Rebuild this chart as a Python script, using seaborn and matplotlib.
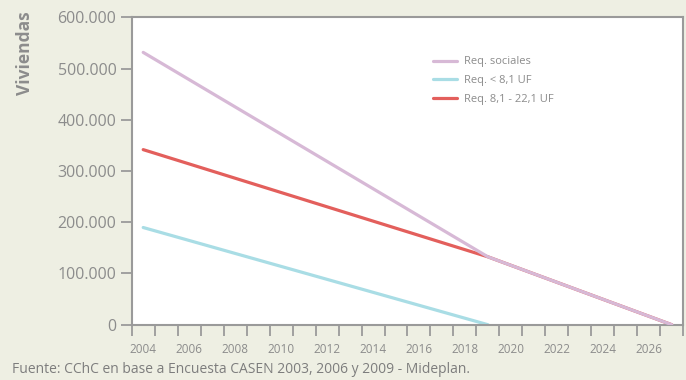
import matplotlib
matplotlib.use("Agg")
import matplotlib.pyplot as plt
from matplotlib.ticker import FuncFormatter, FixedLocator
import seaborn as sns
import pandas as pd

# Housing requirement projections (number of dwellings)
years_sociales = [2004, 2019, 2027]
req_sociales = [531500, 132500, 0]

years_bajo = [2004, 2019]
req_bajo = [189700, 0]

years_medio = [2004, 2019, 2027]
req_medio = [341700, 132500, 0]

series_names = ["Req. sociales", "Req. < 8,1 UF", "Req. 8,1 - 22,1 UF"]
series_colors = ["#d7b9d6", "#a9dde5", "#e35f5c"]

x_labels = list(range(2004, 2027, 2))
y_ticks = [0, 100000, 200000, 300000, 400000, 500000, 600000]

source_text = "Fuente: CChC en base a Encuesta CASEN 2003, 2006 y 2009 - Mideplan."
y_title = "Viviendas"

df = pd.concat([
    pd.DataFrame({"Año": years_sociales, "Viviendas": req_sociales, "Serie": series_names[0]}),
    pd.DataFrame({"Año": years_bajo, "Viviendas": req_bajo, "Serie": series_names[1]}),
    pd.DataFrame({"Año": years_medio, "Viviendas": req_medio, "Serie": series_names[2]}),
], ignore_index=True)

sns.set_style("white")
plt.rcParams["font.family"] = ["Open Sans", "DejaVu Sans"]

bg = "#eeefe3"
grey = "#8c8c8c"
spine_c = "#9a9a9a"

fig = plt.figure(figsize=(6.86, 3.80), dpi=100, facecolor=bg)
ax = fig.add_axes([0.192, 0.1455, 0.804, 0.809])
ax.set_facecolor("white")

sns.lineplot(data=df, x="Año", y="Viviendas", hue="Serie", hue_order=series_names,
             palette=series_colors, linewidth=2.3, ax=ax, legend=True)

# keep the total-requirement line on top of the overlapping segment
ax.lines[0].set_zorder(5)

ax.set_xlim(2003.5, 2027.5)
ax.set_ylim(0, 600000)

ax.xaxis.set_major_locator(FixedLocator(x_labels))
ax.xaxis.set_minor_locator(FixedLocator([y - 0.5 for y in range(2004, 2029)]))
ax.set_xticklabels([str(v) for v in x_labels])
ax.tick_params(axis="x", which="major", length=0, pad=13, labelsize=8.5, labelcolor=grey)
ax.tick_params(axis="x", which="minor", length=8, width=1.3, color=spine_c, direction="out")

ax.set_yticks(y_ticks)
ax.yaxis.set_major_formatter(FuncFormatter(lambda v, p: f"{int(v):,}".replace(",", ".")))
ax.tick_params(axis="y", length=8, width=1.3, color=spine_c, pad=3, labelsize=11.5, labelcolor=grey)
ax.tick_params(left=True, bottom=True, which="both")

for s in ax.spines.values():
    s.set_color(spine_c)
    s.set_linewidth(1.5)
    s.set_visible(True)

ax.set_xlabel("")
ax.set_ylabel("")
fig.text(0.037, 0.86, y_title, rotation=90, ha="center", va="center",
         fontsize=12.5, fontweight="bold", color=grey)

leg = ax.legend(loc="upper left", bbox_to_anchor=(0.528, 0.905), frameon=False,
                fontsize=8, handlelength=2.2, handletextpad=0.6, labelspacing=0.7,
                labelcolor=grey)

fig.text(0.017, 0.028, source_text, fontsize=10, color="#7d7d7d", ha="left", va="center")

fig.savefig("out.png", dpi=100, facecolor=bg)
